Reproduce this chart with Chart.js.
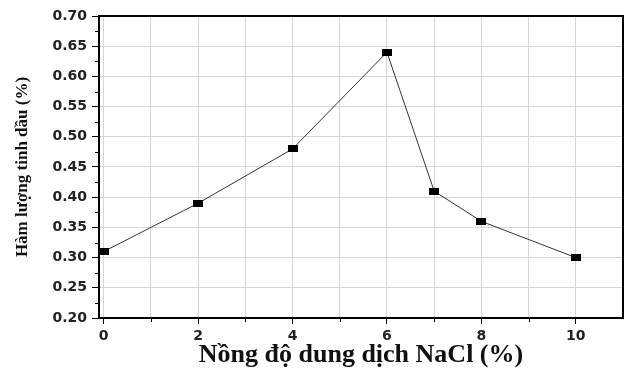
<!DOCTYPE html>
<html>
<head>
<meta charset="utf-8">
<script src="https://cdn.jsdelivr.net/npm/chart.js@4"></script>
<style>
  html, body { margin: 0; padding: 0; background: #fff; }
  #wrap { width: 628px; height: 368px; }
</style>
</head>
<body>
<div id="wrap"><canvas id="c" width="628" height="368"></canvas></div>
<script>
// NaCl concentration (%) vs essential oil content (%)
const nacl = [0, 2, 4, 6, 7, 8, 10];
const oil = [0.31, 0.39, 0.48, 0.64, 0.41, 0.36, 0.30];

const xTicks = [0, 1, 2, 3, 4, 5, 6, 7, 8, 9, 10, 11];
const yTicks = [0.20, 0.25, 0.30, 0.35, 0.40, 0.45, 0.50, 0.55, 0.60, 0.65, 0.70];

const INK = "#000";
const GRID = "#d6d6d6";
const TICK_FONT = { family: "DejaVu Sans", size: 14, weight: "bold" };

// filled marker, a bit wider than tall like the original
const marker = document.createElement("canvas");
marker.width = 10;
marker.height = 7;
marker.getContext("2d").fillRect(0, 0, 10, 7);

// short minor ticks between the major ones + closed frame
const frame = {
  id: "frame",
  afterDraw(chart) {
    const { ctx, chartArea: a, scales } = chart;
    ctx.save();
    ctx.strokeStyle = INK;
    ctx.lineWidth = 1;
    ctx.beginPath();
    const yv = scales.y.ticks.map((t) => t.value);
    for (let i = 0; i < yv.length - 1; i++) {
      const py = Math.round(scales.y.getPixelForValue((yv[i] + yv[i + 1]) / 2)) + 0.5;
      ctx.moveTo(a.left - 4, py);
      ctx.lineTo(a.left, py);
    }
    scales.x.ticks.forEach((t) => {
      if (t.value % 2 === 1 && t.value < 11) {
        const px = Math.round(scales.x.getPixelForValue(t.value)) + 0.5;
        ctx.moveTo(px, a.bottom);
        ctx.lineTo(px, a.bottom + 4);
      }
    });
    ctx.stroke();
    ctx.lineWidth = 2;
    ctx.strokeRect(a.left, a.top, a.right - a.left, a.bottom - a.top);
    ctx.restore();
  },
};

new Chart(document.getElementById("c"), {
  type: "line",
  data: {
    labels: nacl,
    datasets: [{
      data: nacl.map((x, i) => ({ x, y: oil[i] })),
      borderColor: "#333",
      borderWidth: 1,
      pointStyle: marker,
      pointBackgroundColor: INK,
      tension: 0,
    }],
  },
  options: {
    responsive: false,
    animation: false,
    layout: { padding: { top: 16, right: 3, left: 0, bottom: 0 } },
    plugins: { legend: { display: false }, tooltip: { enabled: false } },
    scales: {
      x: {
        type: "linear",
        min: -0.1,
        max: 11,
        afterBuildTicks: (s) => { s.ticks = xTicks.map((v) => ({ value: v })); },
        afterFit: (s) => { s.height = 50; },
        border: { color: INK, width: 2 },
        grid: {
          color: GRID,
          tickColor: (c) => (c.tick && c.tick.value % 2 === 0 ? INK : "rgba(0,0,0,0)"),
          tickLength: 6,
        },
        ticks: {
          color: "#222",
          font: TICK_FONT,
          padding: 4,
          maxRotation: 0,
          autoSkip: false,
          callback: (v) => (v % 2 === 0 && v <= 10 ? String(v) : ""),
        },
        title: {
          display: true,
          text: "Nồng độ dung dịch NaCl (%)",
          color: "#111",
          font: { family: "Liberation Serif", size: 26, weight: "bold", lineHeight: 1 },
          padding: { top: 0, bottom: 0 },
        },
      },
      y: {
        min: 0.2,
        max: 0.7,
        afterBuildTicks: (s) => { s.ticks = yTicks.map((v) => ({ value: v })); },
        afterFit: (s) => { s.width = 99; },
        border: { color: INK, width: 2 },
        grid: { color: GRID, tickColor: INK, tickLength: 7 },
        ticks: {
          color: "#222",
          font: TICK_FONT,
          padding: 5,
          callback: (v) => v.toFixed(2),
        },
        title: {
          display: true,
          text: "Hàm lượng tinh dầu (%)",
          color: "#111",
          font: { family: "Liberation Serif", size: 17, weight: "bold" },
          padding: { top: 12, bottom: 0 },
        },
      },
    },
  },
  plugins: [frame],
});
</script>
</body>
</html>
